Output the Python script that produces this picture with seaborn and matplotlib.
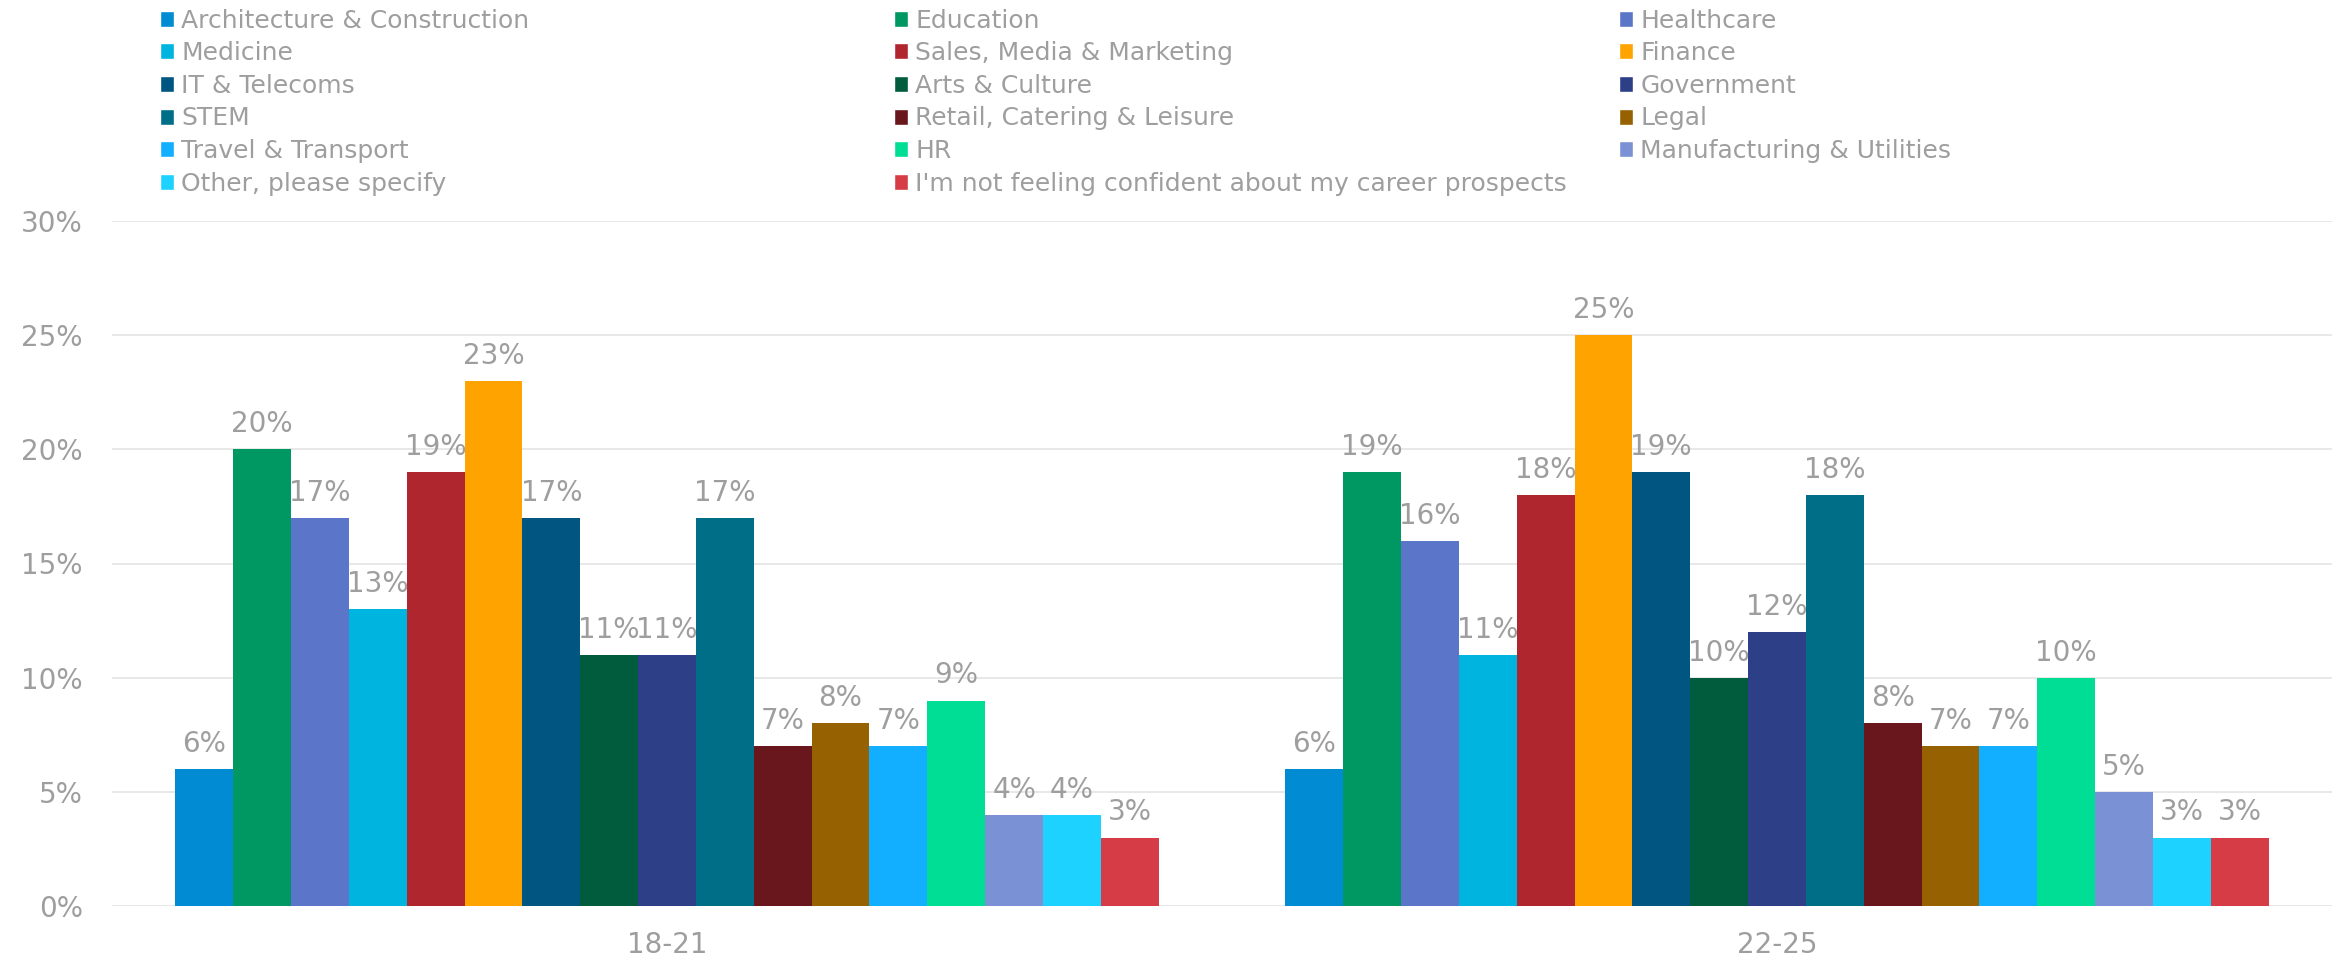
import matplotlib
matplotlib.use('Agg')
import matplotlib.pyplot as plt
import seaborn as sns
import pandas as pd
from matplotlib.patches import Patch
from matplotlib.ticker import PercentFormatter

# Chart data
age_groups = ['18-21', '22-25']
sectors = ['Architecture & Construction', 'Education', 'Healthcare',
           'Medicine', 'Sales, Media & Marketing', 'Finance',
           'IT & Telecoms', 'Arts & Culture', 'Government',
           'STEM', 'Retail, Catering & Leisure', 'Legal',
           'Travel & Transport', 'HR', 'Manufacturing & Utilities',
           'Other, please specify', "I'm not feeling confident about my career prospects"]
share_18_21 = [6, 20, 17, 13, 19, 23, 17, 11, 11, 17, 7, 8, 7, 9, 4, 4, 3]
share_22_25 = [6, 19, 16, 11, 18, 25, 19, 10, 12, 18, 8, 7, 7, 10, 5, 3, 3]
colours = ['#008BD2', '#009862', '#5B76C9', '#00B4E0', '#B0262F', '#FFA300',
           '#005581', '#005C3C', '#2C3F87', '#006E86', '#69171C', '#966100',
           '#12AEFF', '#00DE96', '#7A91D6', '#1ED2FF', '#D63C46']

df = pd.DataFrame({
    'age': ['18-21'] * len(sectors) + ['22-25'] * len(sectors),
    'sector': sectors * 2,
    'share': share_18_21 + share_22_25,
})

sns.set_theme(style='white')
plt.rcParams['font.family'] = ['DejaVu Sans']
grey = '#9E9E9E'

W, H = 2344, 960
fig = plt.figure(figsize=(W / 100, H / 100), dpi=100)
ax = fig.add_axes([112 / W, 1 - 906 / H, (2332 - 112) / W, (906 - 221) / H])

sns.barplot(data=df, x='age', y='share', hue='sector', order=age_groups,
            hue_order=sectors, palette=colours, width=0.886, gap=0,
            saturation=1, linewidth=0, legend=False, ax=ax)

for cont in ax.containers:
    ax.bar_label(cont, labels=[f'{v:.0f}%' for v in cont.datavalues],
                 padding=8, color=grey, fontsize=20)

ax.set_xlim(-0.5, 1.5)
ax.set_ylim(0, 30)
ax.set_yticks(range(0, 31, 5))
ax.yaxis.set_major_formatter(PercentFormatter(decimals=0))
ax.grid(axis='y', color='#E6E6E6', linewidth=1.3)
ax.set_axisbelow(True)
sns.despine(ax=ax, left=True, bottom=True)
ax.tick_params(axis='y', length=0, pad=21, labelsize=20, labelcolor=grey)
ax.tick_params(axis='x', length=0, pad=18, labelsize=20, labelcolor=grey)
ax.set_xlabel('')
ax.set_ylabel('')

# legend laid out in three fixed-width columns, filled row by row
handles = [Patch(facecolor=c, label=s) for s, c in zip(sectors, colours)]
col_x = [160, 894, 1619]
for k, x in enumerate(col_x):
    fig.legend(handles=handles[k::3], loc='upper left',
               bbox_to_anchor=(x / W, 1 - 8.5 / H), ncol=1, frameon=False,
               fontsize=18, handlelength=0.55, handleheight=0.6,
               handletextpad=0.3, labelspacing=0.345, borderpad=0,
               borderaxespad=0, labelcolor=grey)

fig.savefig('out.png', dpi=100)
